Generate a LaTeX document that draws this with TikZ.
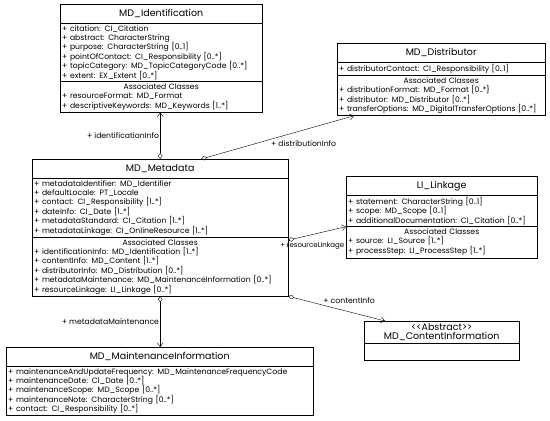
\documentclass[tikz,border=0pt]{standalone}
\usepackage{fontspec}
\setmainfont{Poppins}
\usetikzlibrary{shapes.multipart, arrows.meta, calc}

\newcommand\clsname[1]{\makebox[\hsize][c]{\fontsize{9.5}{11}\selectfont\rule[-4.5pt]{0pt}{15pt}#1}}
\newcommand\assoc{\makebox[\hsize][c]{Associated Classes}}

\begin{document}
\begin{tikzpicture}[x=1pt, y=-1pt,
    umlclass/.style={draw, rectangle split, rectangle split parts=3,
      anchor=north west, align=left, inner xsep=2pt, inner ysep=1.8pt,
      font=\fontsize{7.7}{9.4}\selectfont, text width=#1},
    hasa/.style={{Diamond[open, length=6pt, width=4.5pt]}-{Straight Barb[length=4pt, width=6pt]}},
    rolename/.style={font=\fontsize{7.7}{9}\selectfont, inner sep=1pt}]
  \useasboundingbox (0,0) rectangle (550,421);
  % Classes
  \node[umlclass=198pt] (ident) at (60,4) {\clsname{MD\_Identification}
    \nodepart{two} + citation: CI\_Citation\\
    + abstract: CharacterString\\
    + purpose: CharacterString [0..1]\\
    + pointOfContact: CI\_Responsibility [0..*]\\
    + topicCategory: MD\_TopicCategoryCode [0..*]\\
    + extent: EX\_Extent [0..*]
    \nodepart{three} \assoc\\
    + resourceFormat: MD\_Format\\
    + descriptiveKeywords: MD\_Keywords [1..*]};
  \node[umlclass=204pt] (distr) at (337,43) {\clsname{MD\_Distributor}
    \nodepart{two} + distributorContact: CI\_Responsibility [0..1]
    \nodepart{three} \assoc\\
    + distributionFormat: MD\_Format [0..*\}\\
    + distributor: MD\_Distributor [0..*]\\
    + transferOptions: MD\_DigitalTransferOptions [0..*]};
  \node[umlclass=252pt] (meta) at (32,159) {\clsname{MD\_Metadata}
    \nodepart{two} + metadataIdentifier: MD\_Identifier\\
    + defaultLocale: PT\_Locale\\
    + contact: CI\_Responsibility [1..*]\\
    + dateInfo: CI\_Date [1..*]\\
    + metadataStandard: CI\_Citation [1..*]\\
    + metadataLinkage: CI\_OnlineResource [1..*]
    \nodepart{three} \assoc\\
    + identificationInfo: MD\_Identification [1..*]\\
    + contentInfo: MD\_Content [1..*]\\
    + distributorInfo: MD\_Distribution [0..*]\\
    + metadataMaintenance: MD\_MaintenanceInformation [0..*]\\
    + resourceLinkage: LI\_Linkage [0..*]};
  \node[umlclass=187pt] (link) at (346,176) {\clsname{LI\_Linkage}
    \nodepart{two} + statement: CharacterString [0..1]\\
    + scope: MD\_Scope [0..1]\\
    + additionalDocumentation: CI\_Citation [0..*]
    \nodepart{three} \assoc\\
    + source: LI\_Source [1..*]\\
    + processStep: LI\_ProcessStep [1..*]\rule[-3pt]{0pt}{3pt}};
  \node[umlclass=151pt, rectangle split parts=2] (content) at (364,321)
    {\makebox[\hsize][c]{\fontsize{9.5}{10.5}\selectfont {<}{<}Abstract{>}{>}}\\
     \makebox[\hsize][c]{\fontsize{9.5}{10.5}\selectfont MD\_ContentInformation}
    \nodepart{two} \rule{0pt}{13pt}};
  \node[umlclass=303pt, rectangle split parts=2] (maint) at (6,347) {\clsname{MD\_MaintenanceInformation}
    \nodepart{two} + maintenanceAndUpdateFrequency: MD\_MaintenanceFrequencyCode\\
    + maintenanceDate: CI\_Date [0..*]\\
    + maintenanceScope: MD\_Scope [0..*]\\
    + maintenanceNote: CharacterString [0..*]\\
    + contact: CI\_Responsibility [0..*]};
  % Associations
  \draw[hasa] (meta.north) -- (meta.north |- ident.south)
    node[midway, left, rolename] {+ identificationInfo};
  \draw[hasa] ($(meta.north west)!0.66!(meta.north east)$) -- ($(distr.south west)+(17,0)$)
    node[pos=0.45, anchor=north west, rolename] {+ distributionInfo};
  \draw[hasa] ($(meta.two split east)+(0,3)$) -- (link.two split west)
    node[pos=1, anchor=north east, xshift=-0.5pt, yshift=-14pt, rolename, font=\fontsize{7}{9}\selectfont] {+ resourceLinkage};
  \draw[hasa] (meta.south east) -- ($(content.north west)+(21,0)$)
    node[pos=0.35, anchor=south west, rolename] {+ contentInfo};
  \draw[hasa] (meta.south) -- (meta.south |- maint.north)
    node[midway, left, rolename] {+ metadataMaintenance};
\end{tikzpicture}
\end{document}
